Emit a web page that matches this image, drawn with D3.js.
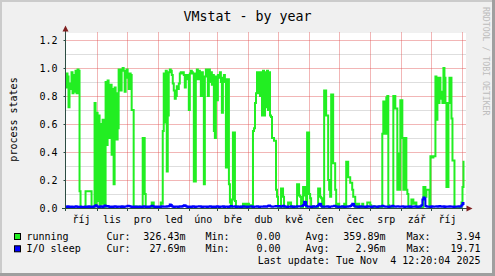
<!DOCTYPE html>
<html><head><meta charset="utf-8">
<script src="https://cdn.jsdelivr.net/npm/d3@7"></script>
<style>
body{margin:0;background:#f0f0f0}
svg{display:block}
text{font-family:"DejaVu Sans Mono",monospace}
</style>
</head><body>
<svg id="c" width="495" height="276"></svg>
<script>
// ---------- data (one value per day) ----------
const running = [
0.86,0.96,0.94,0.72,0.85,0.89,0.97,0.82,0.95,0.83,0.98,0.82,0.99,0.98,0.12,0.0,0.0,0.0,0.0,0.0,
0.12,0.12,0.12,0.12,0.12,0.12,0.0,0.0,0.0,0.75,0.02,0.68,0.05,0.66,0.0,0.6,0.03,0.63,0.45,0.0,
0.9,0.45,0.91,0.87,0.5,0.88,0.38,0.85,0.17,0.86,0.82,0.49,0.57,0.99,0.98,0.84,0.99,1.0,0.98,0.83,
0.95,0.99,0.93,0.85,0.96,0.95,0.7,0.7,0.0,0.0,0.01,0.0,0.0,0.01,0.0,0.0,0.0,0.5,0.5,0.1,
0.0,0.0,0.0,0.0,0.0,0.0,0.04,0.04,0.0,0.0,0.0,0.0,0.0,0.0,0.0,0.04,0.03,0.55,0.96,0.61,
0.98,0.26,0.66,0.97,0.99,0.98,0.95,0.89,0.84,0.78,0.8,0.87,0.85,0.89,0.96,0.97,0.96,0.97,0.95,0.86,
0.95,0.92,0.95,0.7,0.96,0.98,0.97,0.96,0.19,0.19,0.96,0.99,0.92,0.98,0.97,0.8,0.97,0.93,0.17,0.94,
0.99,0.97,0.8,0.99,0.9,0.97,0.88,0.95,0.55,0.5,0.94,0.77,0.95,0.93,0.97,0.9,0.68,0.93,0.95,0.9,
0.29,0.92,0.92,0.17,0.04,0.0,0.06,0.54,0.54,0.05,0.0,0.01,0.0,0.0,0.0,0.01,0.0,0.03,0.03,0.0,
0.01,0.03,0.03,0.0,0.02,0.0,0.02,0.55,0.57,0.75,0.82,0.97,0.82,0.97,0.8,0.97,0.66,0.98,0.66,0.97,
0.72,0.98,0.7,0.97,0.66,0.65,0.5,0.5,0.48,0.48,0.13,0.08,0.0,0.0,0.0,0.14,0.14,0.08,0.0,0.0,
0.0,0.0,0.04,0.03,0.04,0.0,0.0,0.01,0.0,0.0,0.0,0.17,0.17,0.09,0.08,0.0,0.0,0.15,0.15,0.09,
0.0,0.54,0.54,0.1,0.07,0.0,0.0,0.01,0.0,0.0,0.0,0.0,0.14,0.14,0.08,0.07,0.0,0.0,0.84,0.84,
0.66,0.66,0.2,0.13,0.08,0.81,0.81,0.32,0.32,0.13,0.0,0.0,0.03,0.0,0.0,0.0,0.01,0.0,0.03,0.0,
0.33,0.33,0.22,0.22,0.18,0.18,0.13,0.08,0.08,0.0,0.0,0.03,0.03,0.0,0.0,0.0,0.03,0.0,0.0,0.0,
0.0,0.04,0.04,0.04,0.02,0.0,0.0,0.0,0.01,0.0,0.0,0.0,0.01,0.0,0.0,0.0,0.53,0.76,0.76,0.53,
0.79,0.8,0.02,0.0,0.0,0.0,0.0,0.8,0.8,0.71,0.71,0.13,0.39,0.13,0.77,0.77,0.5,0.13,0.5,0.5,
0.13,0.1,0.0,0.0,0.0,0.06,0.06,0.03,0.04,0.04,0.0,0.0,0.0,0.01,0.0,0.0,0.0,0.15,0.15,0.08,
0.13,0.13,0.13,0.0,0.37,0.37,0.36,0.37,0.37,0.94,0.63,0.93,0.75,0.93,0.78,0.83,0.75,1.0,0.93,0.75,
0.15,0.15,0.75,0.93,0.93,0.64,0.34,0.34,0.0,0.0,0.0,0.0,0.0,0.0,0.0,0.04,0.15,0.33
];
const ioSleep = [
0.010,0.008,0.012,0.009,0.007,0.010,0.011,0.008,0.006,0.009,0.012,0.010,0.008,0.007,0.009,0.011,0.008,0.006,0.008,0.010,
0.009,0.007,0.010,0.012,0.008,0.009,0.011,0.007,0.010,0.014,0.020,0.012,0.009,0.008,0.011,0.013,0.009,0.008,0.012,0.018,
0.012,0.010,0.015,0.009,0.008,0.011,0.010,0.007,0.009,0.012,0.010,0.008,0.009,0.011,0.010,0.008,0.012,0.009,0.007,0.010,
0.011,0.013,0.016,0.015,0.012,0.009,0.008,0.010,0.007,0.009,0.011,0.008,0.006,0.009,0.010,0.008,0.007,0.011,0.012,0.009,
0.008,0.010,0.009,0.007,0.011,0.012,0.016,0.013,0.009,0.008,0.010,0.007,0.009,0.011,0.008,0.010,0.012,0.009,0.011,0.010,
0.009,0.012,0.010,0.014,0.025,0.022,0.012,0.009,0.008,0.010,0.011,0.009,0.007,0.010,0.012,0.009,0.011,0.014,0.020,0.018,
0.012,0.009,0.008,0.010,0.011,0.008,0.009,0.012,0.010,0.008,0.009,0.011,0.010,0.012,0.013,0.009,0.008,0.010,0.009,0.011,
0.010,0.008,0.009,0.011,0.012,0.009,0.007,0.010,0.011,0.008,0.009,0.012,0.010,0.008,0.011,0.009,0.010,0.012,0.008,0.009,
0.011,0.010,0.008,0.009,0.012,0.014,0.011,0.009,0.010,0.012,0.008,0.009,0.011,0.010,0.008,0.007,0.010,0.012,0.009,0.011,
0.010,0.008,0.009,0.011,0.010,0.012,0.009,0.008,0.010,0.011,0.009,0.012,0.010,0.008,0.009,0.011,0.010,0.009,0.012,0.010,
0.009,0.012,0.016,0.018,0.012,0.010,0.009,0.011,0.010,0.012,0.014,0.011,0.010,0.015,0.012,0.009,0.011,0.016,0.012,0.009,
0.010,0.008,0.011,0.009,0.010,0.012,0.009,0.008,0.010,0.011,0.009,0.012,0.010,0.011,0.013,0.012,0.014,0.022,0.045,0.042,
0.015,0.010,0.009,0.011,0.010,0.008,0.009,0.012,0.010,0.009,0.011,0.014,0.020,0.030,0.028,0.012,0.009,0.010,0.011,0.009,
0.010,0.012,0.009,0.008,0.011,0.010,0.012,0.013,0.016,0.012,0.009,0.010,0.008,0.011,0.009,0.010,0.012,0.009,0.008,0.010,
0.011,0.009,0.012,0.010,0.014,0.020,0.030,0.028,0.012,0.010,0.009,0.011,0.008,0.010,0.012,0.009,0.010,0.011,0.009,0.008,
0.010,0.012,0.009,0.011,0.010,0.008,0.009,0.012,0.010,0.011,0.009,0.008,0.010,0.012,0.011,0.013,0.016,0.012,0.010,0.009,
0.011,0.010,0.008,0.009,0.012,0.010,0.016,0.013,0.010,0.009,0.011,0.012,0.010,0.009,0.011,0.010,0.012,0.009,0.008,0.010,
0.011,0.009,0.010,0.012,0.008,0.009,0.011,0.010,0.009,0.012,0.010,0.008,0.011,0.009,0.012,0.020,0.060,0.075,0.070,0.015,
0.010,0.009,0.011,0.010,0.008,0.012,0.010,0.009,0.011,0.010,0.012,0.009,0.010,0.014,0.011,0.009,0.010,0.012,0.008,0.010,
0.011,0.009,0.010,0.012,0.009,0.010,0.011,0.008,0.010,0.009,0.011,0.010,0.012,0.009,0.010,0.020,0.036,0.028
];
const monthLabels = ["říj","lis","pro","led","úno","bře","dub","kvě","čen","čec","srp","zář","říj"];
const yTicks = [0, 0.2, 0.4, 0.6, 0.8, 1.0, 1.2];
const yMinorTicks = [0.1, 0.3, 0.5, 0.7, 0.9, 1.1];
const seriesNames = ["running", "I/O sleep"];
const curVals = ["326.43m", "27.69m"];
const minVals = ["0.00", "0.00"];
const avgVals = ["359.89m", "2.96m"];
const maxVals = ["3.94", "19.71"];
const titleText = "VMstat - by year";
const yAxisTitle = "process states";
const lastUpdate = "Last update: Tue Nov  4 12:20:04 2025";
const watermark = "RRDTOOL / TOBI OETIKER";
const endDate = new Date(2025, 10, 4, 12, 20, 4);
const spanDays = 400;

// ---------- styles ----------
const COL_RUN = "#22ee22", COL_IO = "#0000ff";
const AXIS = "#2c4d43", ARROW = "#7f1f1f";
const MGRID = "rgba(224,80,80,0.42)", GRID = "#dedede";

const svg = d3.select("#c");
const L = 66, R = 466, T = 33, B = 208;

// background and border
svg.append("rect").attr("width",495).attr("height",276).attr("fill","#f0f0f0");
svg.append("rect").attr("x",0).attr("y",0).attr("width",495).attr("height",2).attr("fill","#cbcbcb");
svg.append("rect").attr("x",0).attr("y",0).attr("width",2).attr("height",276).attr("fill","#cbcbcb");
svg.append("rect").attr("x",492).attr("y",0).attr("width",3).attr("height",276).attr("fill","#9f9f9f");
svg.append("rect").attr("x",0).attr("y",273).attr("width",495).attr("height",3).attr("fill","#9f9f9f");
svg.append("rect").attr("x",L).attr("y",T).attr("width",R-L).attr("height",B-T).attr("fill","#fff");

const startDate = d3.timeDay.offset(endDate, -spanDays);
const x = d3.scaleTime().domain([startDate, endDate]).range([65, 466]);
const y = d3.scaleLinear().domain([0, 1.25]).range([B, T]);
const crisp = v => Math.round(v) + 0.5;

// grid
const grid = svg.append("g");
grid.selectAll(".mi").data(yMinorTicks).join("line")
  .attr("x1",L).attr("x2",R).attr("y1",d=>crisp(y(d))).attr("y2",d=>crisp(y(d)))
  .attr("stroke",GRID).attr("stroke-width",1);
grid.selectAll(".ma").data(yTicks.filter(d=>d>0)).join("line")
  .attr("x1",L).attr("x2",R).attr("y1",d=>crisp(y(d))).attr("y2",d=>crisp(y(d)))
  .attr("stroke",MGRID).attr("stroke-width",1);
const monthStarts = d3.timeMonth.range(d3.timeMonth.ceil(startDate), endDate).filter(d => x(d) > 68);
grid.selectAll(".mv").data(monthStarts).join("line")
  .attr("x1",d=>crisp(x(d))).attr("x2",d=>crisp(x(d))).attr("y1",T-1).attr("y2",B)
  .attr("stroke",MGRID).attr("stroke-width",1);

// series
const toPoints = arr => {
  const pts = arr.map((v,i) => ({date: new Date(+startDate + (i+0.5)*864e5), v}));
  pts.push({date: new Date(+startDate + (arr.length+0.5)*864e5), v: arr[arr.length-1]});
  return pts;
};
const line = d3.line().x(d=>x(d.date)).y(d=>y(d.v)).curve(d3.curveStepAfter);
svg.append("path").attr("d", line(toPoints(running))).attr("fill","none")
  .attr("stroke",COL_RUN).attr("stroke-width",2).attr("stroke-linejoin","miter");
svg.append("path").attr("d", line(toPoints(ioSleep))).attr("fill","none")
  .attr("stroke",COL_IO).attr("stroke-width",2).attr("stroke-linejoin","miter");

// y axis
const yAxisG = svg.append("g").attr("transform","translate(65.5,0)")
  .call(d3.axisLeft(y).tickValues(yTicks).tickFormat(d3.format(".1f")).tickSizeInner(2).tickSizeOuter(0).tickPadding(6));
yAxisG.select(".domain").remove();
yAxisG.selectAll("line").attr("stroke",AXIS);
yAxisG.selectAll("text").attr("font-family","DejaVu Sans Mono").attr("font-size",10).attr("fill","#000");

// x axis labels at month centres
const allMonths = d3.timeMonth.range(d3.timeMonth.floor(startDate), endDate);
const centers = allMonths.map(m => new Date((+m + +d3.timeMonth.offset(m,1))/2))
  .filter(c => x(c) > L && x(c) < R).slice(0, monthLabels.length);
const xAxisG = svg.append("g").attr("transform",`translate(0,${B})`)
  .call(d3.axisBottom(x).tickValues(centers).tickFormat((d,i)=>monthLabels[i]).tickSize(0).tickPadding(7.4));
xAxisG.select(".domain").remove();
xAxisG.selectAll("text").attr("font-family","DejaVu Sans Mono").attr("font-size",10).attr("fill","#000");

// month ticks below axis
svg.append("g").selectAll("line").data(monthStarts).join("line")
  .attr("x1",d=>crisp(x(d))).attr("x2",d=>crisp(x(d))).attr("y1",B).attr("y2",B+3)
  .attr("stroke",AXIS);

// axis lines + arrows
svg.append("line").attr("x1",62).attr("x2",469).attr("y1",B+0.5).attr("y2",B+0.5).attr("stroke",AXIS);
svg.append("line").attr("x1",65.5).attr("x2",65.5).attr("y1",B+3).attr("y2",29).attr("stroke",AXIS);
svg.append("path").attr("d","M62.5,31.5L68.5,31.5L65.5,25.5Z").attr("fill",ARROW);
svg.append("path").attr("d","M466.5,205.5L466.5,211.5L472.5,208.5Z").attr("fill",ARROW);

// title
svg.append("text").attr("x",247.5).attr("y",20.6).attr("text-anchor","middle")
  .attr("font-size",13.3).attr("fill","#000").text(titleText);
// y title
svg.append("text").attr("transform","translate(16.8,119.5) rotate(-90)").attr("text-anchor","middle")
  .attr("font-size",10).attr("fill","#000").text(yAxisTitle);
// watermark
svg.append("text").attr("transform","translate(483.3,7) rotate(90)")
  .attr("font-size",8.2).attr("fill","#bdbdbd").text(watermark);

// legend
const colors = [COL_RUN, COL_IO];
const rowsY = [239.5, 251.8];
const leg = svg.append("g").attr("font-size",10).attr("fill","#000");
seriesNames.forEach((name, i) => {
  const yy = rowsY[i];
  leg.append("rect").attr("x",14.5).attr("y",yy-6).attr("width",6).attr("height",6)
    .attr("fill",colors[i]).attr("stroke","#000").attr("stroke-width",1);
  leg.append("text").attr("x",26.5).attr("y",yy).text(name);
  leg.append("text").attr("x",106.5).attr("y",yy).text("Cur:");
  leg.append("text").attr("x",185.5).attr("y",yy).attr("text-anchor","end").text(curVals[i]);
  leg.append("text").attr("x",205.5).attr("y",yy).text("Min:");
  leg.append("text").attr("x",280.5).attr("y",yy).attr("text-anchor","end").text(minVals[i]);
  leg.append("text").attr("x",305.5).attr("y",yy).text("Avg:");
  leg.append("text").attr("x",385.5).attr("y",yy).attr("text-anchor","end").text(avgVals[i]);
  leg.append("text").attr("x",406.5).attr("y",yy).text("Max:");
  leg.append("text").attr("x",480.5).attr("y",yy).attr("text-anchor","end").text(maxVals[i]);
});
leg.append("text").attr("x",480.5).attr("y",264).attr("text-anchor","end")
  .style("white-space","pre").text(lastUpdate);
</script>
</body></html>
